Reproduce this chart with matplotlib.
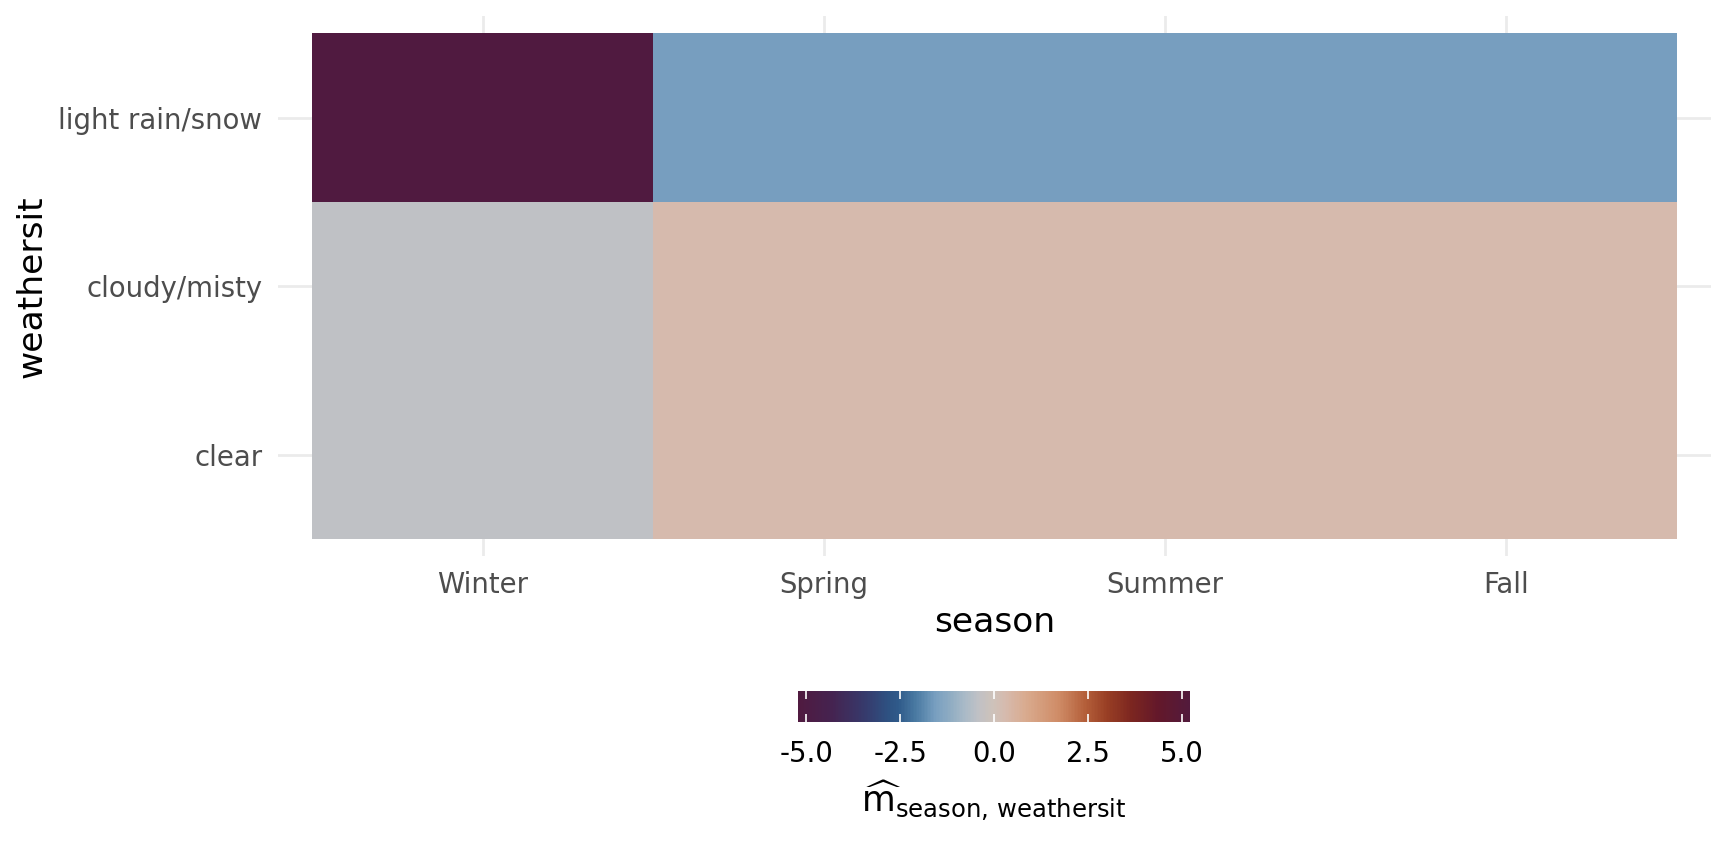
import matplotlib
matplotlib.use("Agg")
import matplotlib.pyplot as plt
import numpy as np
from matplotlib.colors import LinearSegmentedColormap, Normalize

plt.rcParams["mathtext.fontset"] = "dejavusans"

seasons = ["Winter", "Spring", "Summer", "Fall"]
weather = ["clear", "cloudy/misty", "light rain/snow"]

# effect per weather row, one value per season
clear_vals = [-0.42, 0.31, 0.31, 0.31]
cloudy_vals = [-0.42, 0.31, 0.31, 0.31]
rain_vals = [-5.22, -1.57, -1.57, -1.57]

cbar_ticks = [-5.0, -2.5, 0.0, 2.5, 5.0]

# cyclic diverging palette (vikO-like)
cmap = LinearSegmentedColormap.from_list("viko_like", [
    (0.00, "#501a40"), (0.085, "#452350"), (0.17, "#363a6c"),
    (0.23, "#2e5282"), (0.255, "#2f5a8a"), (0.30, "#4a7aa2"),
    (0.35, "#789fc0"), (0.38, "#8aa9c2"), (0.425, "#a9bac7"),
    (0.46, "#c0c1c5"), (0.50, "#cfc2b9"), (0.53, "#d6baad"),
    (0.58, "#d9ab8f"), (0.665, "#cf8c67"), (0.733, "#b45f3a"),
    (0.79, "#983e24"), (0.852, "#7c2620"), (0.92, "#63182a"),
    (1.00, "#521a3c"),
])

z = np.array([clear_vals, cloudy_vals, rain_vals])
lim = np.abs(z).max()
norm = Normalize(-lim, lim)

fig = plt.figure(figsize=(17.28, 8.65), dpi=100)
ax = fig.add_axes([0.161, 0.357, 0.829, 0.624])

xe = np.arange(len(seasons) + 1) - 0.5
ye = np.arange(len(weather) + 1) - 0.5
mesh = ax.pcolormesh(xe, ye, z, cmap=cmap, norm=norm, zorder=2)

ax.set_xlim(-0.6, len(seasons) - 0.4)
ax.set_ylim(-0.6, len(weather) - 0.4)
ax.set_xticks(range(len(seasons)))
ax.set_xticklabels(seasons)
ax.set_yticks(range(len(weather)))
ax.set_yticklabels(weather)
ax.grid(True, color="#ebebeb", lw=2.0, zorder=0)
ax.set_axisbelow(True)
for s in ax.spines.values():
    s.set_visible(False)
ax.tick_params(length=0, labelsize=19.8, labelcolor="#4d4d4d")
ax.tick_params(axis="x", pad=10.5)
ax.tick_params(axis="y", pad=11.5)
ax.set_xlabel("season", fontsize=24.8, labelpad=5)
ax.set_ylabel("weathersit", fontsize=24.8, labelpad=7)

cax = fig.add_axes([0.4618, 0.165, 0.2269, 0.0365])
cb = fig.colorbar(mesh, cax=cax, orientation="horizontal", ticks=cbar_ticks)
cb.outline.set_visible(False)
cax.tick_params(axis="x", top=True, bottom=True, direction="in", color="white",
                length=6, width=1.2, labeltop=False, labelsize=19.8, pad=12.5)
cax.set_xticklabels([f"{t:.1f}" for t in cbar_ticks])
cax.set_xlabel(r"$\widehat{\mathrm{m}}_{\mathrm{season{,}\ weathersit}}$",
               fontsize=25, labelpad=8)

fig.savefig("out.png", dpi=100)
